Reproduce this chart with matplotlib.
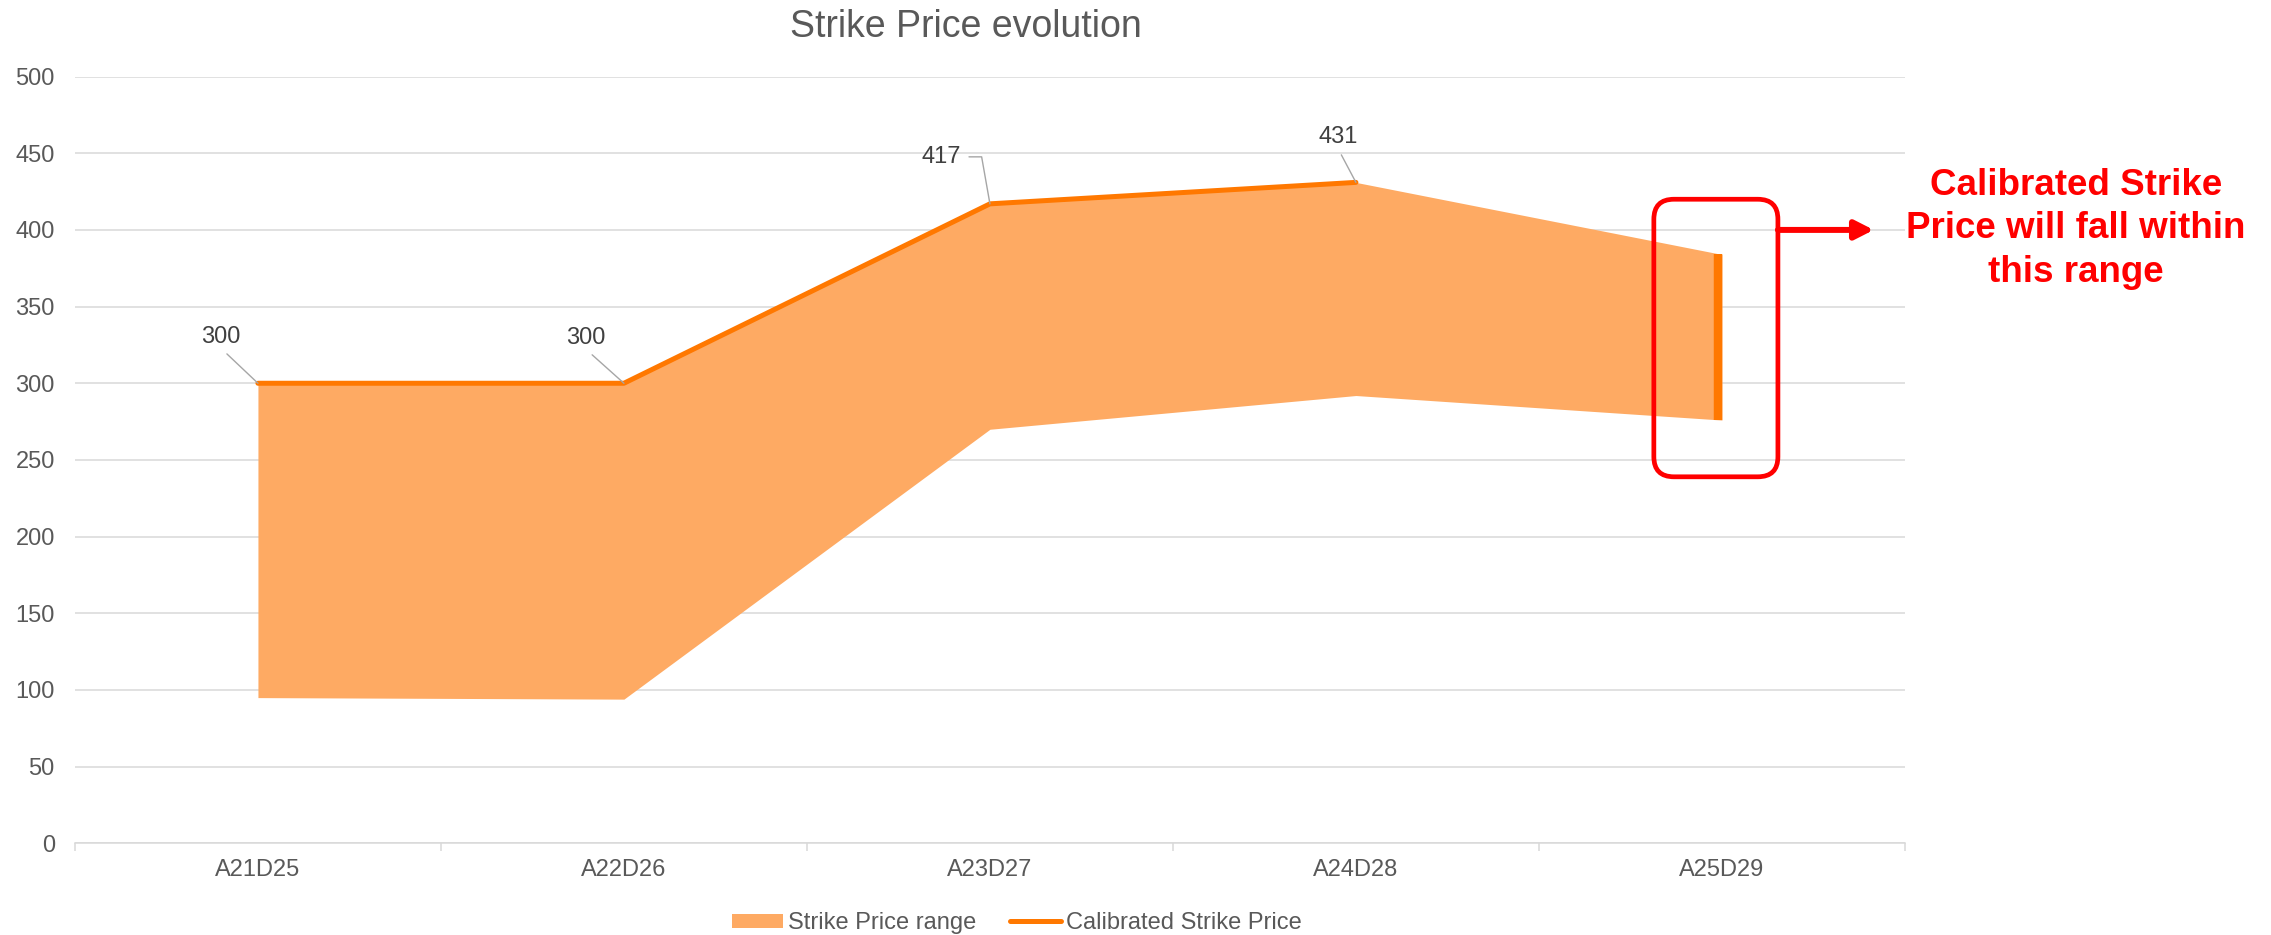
import matplotlib
matplotlib.use("Agg")
import matplotlib.pyplot as plt
from matplotlib.patches import FancyBboxPatch, Patch
from matplotlib.lines import Line2D
from matplotlib.transforms import offset_copy

plt.rcParams['font.family'] = ['Liberation Sans', 'DejaVu Sans']

categories = ["A21D25", "A22D26", "A23D27", "A24D28", "A25D29"]
range_low = [95, 94, 270, 292, 276]
range_high = [300, 300, 417, 431, 384]
calibrated = [300, 300, 417, 431]

FILL = '#FEAA63'
LINE = '#FF7800'
GRID = '#D9D9D9'
TXT = '#595959'

fig = plt.figure(figsize=(22.71, 9.35), dpi=100)
ax = fig.add_axes([0.0330, 0.0981, 0.8058, 0.8200])

x = list(range(len(categories)))
ax.fill_between(x, range_low, range_high, color=FILL, linewidth=0, zorder=2)
ax.plot(x[:len(calibrated)], calibrated, color=LINE, lw=3.6,
        solid_capstyle='round', solid_joinstyle='round', zorder=3)

# last period: only the band where the calibrated price will land
last = len(categories) - 1
bar_tr = offset_copy(ax.transData, fig=fig, x=-4, y=0, units='dots')
ax.plot([last, last], [range_low[last], range_high[last]], color=LINE,
        lw=6.1, solid_capstyle='butt', transform=bar_tr, zorder=3)

# data labels with leader lines
offsets = [(-37, 46), (-38, 45), (-49, 47), (-18, 45)]
for i, v in enumerate(calibrated):
    if i == 2:
        ap = dict(arrowstyle='-', color='#A6A6A6', lw=1, shrinkA=4, shrinkB=0,
                  relpos=(1, 0.5), connectionstyle='angle,angleA=0,angleB=100,rad=0')
    else:
        ap = dict(arrowstyle='-', color='#A6A6A6', lw=1, shrinkA=3, shrinkB=0,
                  relpos=(0.5, 0))
    ax.annotate(f"{v}", xy=(i, v), xytext=offsets[i], textcoords='offset pixels',
                ha='center', va='center', fontsize=17, color='#404040',
                arrowprops=ap, zorder=4)

ax.set_xlim(-0.5, len(categories) - 0.5)
ax.set_ylim(0, 500)
ax.set_yticks(range(0, 501, 50))
ax.set_xticks(x)
ax.set_xticklabels(categories)
ax.set_xticks([i - 0.5 for i in range(len(categories) + 1)], minor=True)

for s in ['top', 'right', 'left']:
    ax.spines[s].set_visible(False)
ax.spines['bottom'].set_color(GRID)
ax.spines['bottom'].set_linewidth(1.1)

ax.tick_params(axis='y', length=0, pad=14.5, labelsize=17, labelcolor=TXT)
ax.tick_params(axis='x', which='major', length=0, pad=11, labelsize=17, labelcolor=TXT)
ax.tick_params(axis='x', which='minor', length=5.8, width=1.1, color=GRID)

ax.yaxis.grid(True, color=GRID, lw=1.1)
ax.set_axisbelow(True)

fig.text(966 / 2271, 1 - 36.7 / 935, "Strike Price evolution", ha='center',
         va='baseline', fontsize=27, color=TXT)

# highlight box around the last period plus call-out
box = FancyBboxPatch((3.814, 239), 0.339, 181,
                     boxstyle="round,pad=0,rounding_size=0.055",
                     mutation_aspect=238, fill=False, edgecolor='#FF0000',
                     lw=3.4, zorder=5, clip_on=False)
ax.add_patch(box)
ax.annotate('', xy=(4.415, 400), xytext=(4.153, 400),
            arrowprops=dict(arrowstyle='-|>,head_length=0.55,head_width=0.28',
                            mutation_scale=20, lw=4.3, color='#FF0000',
                            shrinkA=0, shrinkB=0),
            annotation_clip=False, zorder=5)
fig.text(2076 / 2271, 1 - 229 / 935,
         "Calibrated Strike\nPrice will fall within\nthis range",
         ha='center', va='center', fontsize=26.5, fontweight='bold',
         color='#FF0000', linespacing=1.33)

handles = [Patch(facecolor=FILL, edgecolor='none'),
           Line2D([], [], color=LINE, lw=3.6, solid_capstyle='round')]
leg = fig.legend(handles, ["Strike Price range", "Calibrated Strike Price"],
                 loc='center', bbox_to_anchor=(1017 / 2271, 1 - 923 / 935),
                 ncol=2, frameon=False, fontsize=17, handlelength=2.15,
                 handleheight=0.52, handletextpad=0.25, columnspacing=1.4)
for t in leg.get_texts():
    t.set_color(TXT)

fig.savefig("out.png", dpi=100)
